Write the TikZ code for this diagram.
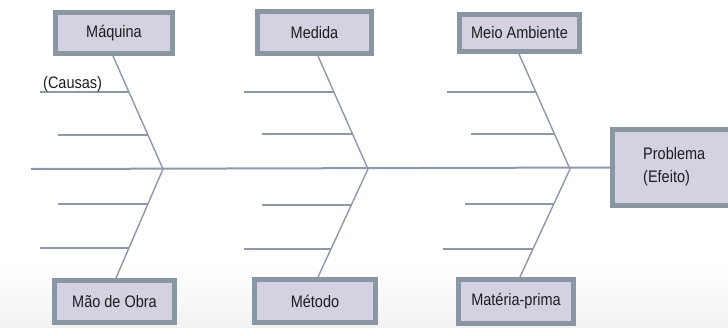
\documentclass[tikz,border=0pt]{standalone}
\usepackage{fontspec}
\setmainfont{Liberation Sans}
\usetikzlibrary{calc}
\definecolor{boxborder}{HTML}{8B96A3}
\definecolor{boxfill}{HTML}{D4D1E1}
\definecolor{bone}{HTML}{8E98A8}
\definecolor{txt}{HTML}{1E1E1E}
\newcommand{\tallt}[1]{\scalebox{1}[1.15]{#1}}
\tikzset{
  catbox/.style={draw=boxborder, fill=boxfill, line width=5bp, inner sep=0pt,
    text=txt, font=\fontsize{14.5bp}{17bp}\selectfont},
  boneline/.style={draw=bone, line width=1.4bp},
  spineline/.style={draw=bone, line width=2bp},
  lbl/.style={text=txt, font=\fontsize{14.5bp}{17bp}\selectfont, inner sep=0pt}
}
\begin{document}
\begin{tikzpicture}[x=1bp,y=-1bp]
\useasboundingbox (0,0) rectangle (728,327);
\fill[white] (0,0) rectangle (728,327);
\shade[top color=white, bottom color=black!5] (0,265) rectangle (728,327);
\begin{scope}
\clip (0,0) rectangle (728,327);
\node[catbox, minimum width=117bp, minimum height=41bp] (mq) at (114,33) {\tallt{Máquina}};
\node[catbox, minimum width=114bp, minimum height=42bp] (md) at (314.5,32.5) {\tallt{Medida}};
\node[catbox, minimum width=120bp, minimum height=37bp] (ma) at (519.5,33) {\tallt{Meio Ambiente}};
\node[catbox, minimum width=120bp, minimum height=42bp] (mo) at (114.5,301.5) {\tallt{Mão de Obra}};
\node[catbox, minimum width=121bp, minimum height=43bp] (mt) at (315,301) {\tallt{Método}};
\node[catbox, minimum width=115bp, minimum height=44bp] (mp) at (516,301.5) {\tallt{Matéria-prima}};
\node[catbox, minimum width=125bp, minimum height=76bp] (pb) at (675,167.5) {};
\end{scope}
\node[lbl, anchor=west, align=left, font=\fontsize{14.5bp}{23bp}\selectfont] (pt) at (643,167) {\tallt{Problema}\\\tallt{(Efeito)}};
% spine and junctions
\coordinate (s0) at (31,169);
\coordinate (j1) at (163,169);
\coordinate (j2) at (368,169);
\coordinate (j3) at (570,169);
\draw[spineline] (s0) -- (pb.west);
% bone ends at boxes
\coordinate (t1) at (113,56);
\coordinate (b1) at (116,278);
\coordinate (t2) at (318,56);
\coordinate (b2) at (318,277);
\coordinate (t3) at (519,54);
\coordinate (b3) at (520,277);
\draw[boneline] (t1) -- (j1) -- (b1);
\draw[boneline] (t2) -- (j2) -- (b2);
\draw[boneline] (t3) -- (j3) -- (b3);
% sub-bones
\coordinate (a1) at (40,92);   \coordinate (a1e) at (128.9,92);
\coordinate (a2) at (58,135);  \coordinate (a2e) at (148,135);
\coordinate (a3) at (58,204);  \coordinate (a3e) at (147.9,204);
\coordinate (a4) at (40,248);  \coordinate (a4e) at (128.9,248);
\coordinate (c1) at (244,92);  \coordinate (c1e) at (334,92);
\coordinate (c2) at (262,134); \coordinate (c2e) at (352.5,134);
\coordinate (c3) at (262,205); \coordinate (c3e) at (351.3,205);
\coordinate (c4) at (244,249); \coordinate (c4e) at (331,249);
\coordinate (e1) at (447,92);  \coordinate (e1e) at (535.9,92);
\coordinate (e2) at (471,134); \coordinate (e2e) at (554.5,134);
\coordinate (e3) at (465,204); \coordinate (e3e) at (553.8,204);
\coordinate (e4) at (443,249); \coordinate (e4e) at (533,249);
\foreach \p in {a1,a2,a3,a4,c1,c2,c3,c4,e1,e2,e3,e4}
  \draw[boneline] (\p) -- (\p e);
\node[lbl, anchor=base west] (cs) at (43,88) {\tallt{(Causas)}};
\end{tikzpicture}
\end{document}
